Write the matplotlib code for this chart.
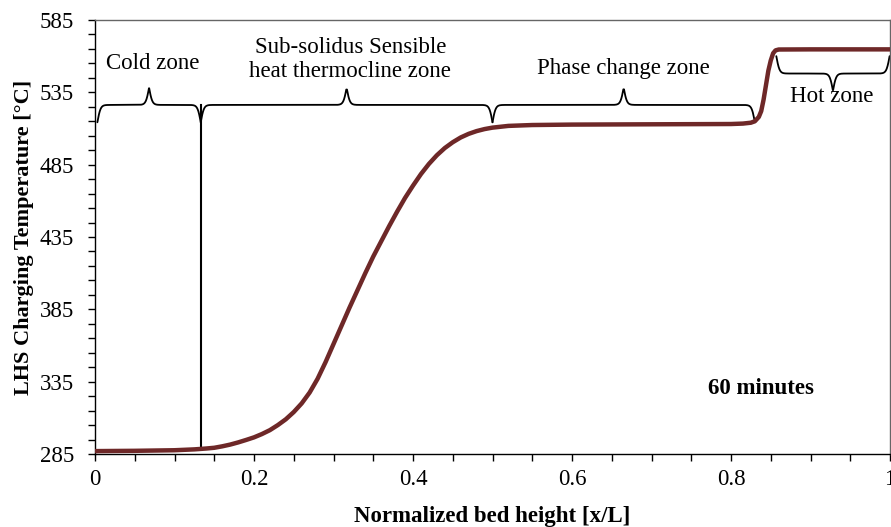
import numpy as np
import matplotlib
matplotlib.use('Agg')
import matplotlib.pyplot as plt
from matplotlib.ticker import MultipleLocator, FixedLocator

plt.rcParams['font.family'] = ['Liberation Serif', 'DejaVu Serif']

# temperature profile after 60 minutes of charging
bed_height = [0, 0.05, 0.1, 0.125, 0.14, 0.15, 0.16, 0.17, 0.18, 0.19, 0.2,
              0.21, 0.22, 0.23, 0.24, 0.25, 0.26, 0.27, 0.28, 0.29, 0.3,
              0.31, 0.32, 0.33, 0.34, 0.35, 0.36, 0.37, 0.38, 0.39, 0.4,
              0.41, 0.42, 0.43, 0.44, 0.45, 0.46, 0.47, 0.48, 0.49, 0.5,
              0.52, 0.55, 0.6, 0.7, 0.8, 0.815, 0.825, 0.83, 0.835, 0.838,
              0.841, 0.844, 0.847, 0.85, 0.853, 0.856, 0.86, 0.9, 1.0]
temperature = [287, 287.2, 287.6, 288.2, 288.8, 289.3, 290.3, 291.5, 293,
               294.7, 296.5, 298.8, 301.5, 305, 309, 314, 320, 327.5, 337,
               348.5, 361, 373.5, 386, 398, 410, 421.5, 432, 442.5,
               452.5, 462, 470.5, 478.5, 485.5, 491.5, 496.5, 500.5, 503.8,
               506.3, 508.2, 509.6, 510.6, 511.8, 512.4, 512.7, 512.9, 513.1,
               513.4, 514, 515, 518, 522, 530, 540, 550, 557, 562, 564,
               564.6, 564.7, 564.7]

y_ticks = [285, 335, 385, 435, 485, 535, 585]
x_ticks = [0, 0.2, 0.4, 0.6, 0.8, 1.0]
x_tick_labels = ['0', '0.2', '0.4', '0.6', '0.8', '1']

# zone annotations
zone_names = ['Cold zone', 'Sub-solidus Sensible\nheat thermocline zone',
              'Phase change zone', 'Hot zone']
zone_start = [0.003, 0.133, 0.5, 0.857]
zone_end = [0.133, 0.5, 0.83, 0.9995]
brace_level = [526.3, 526.3, 526.3, 548]
brace_height = [12, 12, 12, -12]
label_x = [0.072, 0.321, 0.665, 0.927]
label_y = [554.6, 557.7, 551.8, 531.8]
divider_x = 0.133


def brace(ax, x0, x1, y, h, beta=500):
    x = np.linspace(x0, x1, 400)
    half = (x1 - x0) / 2
    t = x[:200] - x0
    yh = 1 / (1 + np.exp(-beta * t)) + 1 / (1 + np.exp(-beta * (t - half)))
    yy = np.concatenate([yh, yh[::-1]])
    ax.plot(x, y + 2 * h * (yy - 1), color='black', lw=1.3,
            solid_capstyle='round')


fig = plt.figure(figsize=(8.91, 5.27), dpi=100)
ax = fig.add_axes([95 / 891, 1 - 454 / 527, 795 / 891, 434 / 527])

ax.plot(bed_height, temperature, color='#6e2828', lw=3.2, zorder=3,
        solid_joinstyle='round')

for i in range(len(zone_names)):
    brace(ax, zone_start[i], zone_end[i], brace_level[i], brace_height[i])
    ax.text(label_x[i], label_y[i], zone_names[i], ha='center', va='center',
            fontsize=16.5, linespacing=1.15)

t_div = np.interp(divider_x, bed_height, temperature)
ax.plot([divider_x, divider_x], [t_div, brace_level[0]], color='black', lw=1.5)

ax.text(0.838, 330, '60 minutes', ha='center', va='center', fontsize=16.5,
        fontweight='bold')

ax.set_xlim(0, 1)
ax.set_ylim(285, 585)
ax.xaxis.set_major_locator(FixedLocator(x_ticks))
ax.set_xticklabels(x_tick_labels)
ax.xaxis.set_minor_locator(MultipleLocator(0.05))
ax.yaxis.set_major_locator(FixedLocator(y_ticks))
ax.yaxis.set_minor_locator(MultipleLocator(10, offset=5))
ax.tick_params(which='both', direction='out', length=5, width=1,
               labelsize=16.5, top=False, right=False)
ax.tick_params(axis='x', pad=6)
ax.tick_params(axis='y', pad=10)

for s in ['left', 'bottom']:
    ax.spines[s].set_color('black')
    ax.spines[s].set_linewidth(1)
for s in ['top', 'right']:
    ax.spines[s].set_color('#666666')
    ax.spines[s].set_linewidth(1)

ax.set_xlabel('Normalized bed height [x/L]', fontsize=16.5, fontweight='bold',
              labelpad=11)
ax.set_ylabel('LHS Charging Temperature [\u00b0C]', fontsize=16,
              fontweight='bold', labelpad=4)

fig.savefig('out.png', dpi=100)
